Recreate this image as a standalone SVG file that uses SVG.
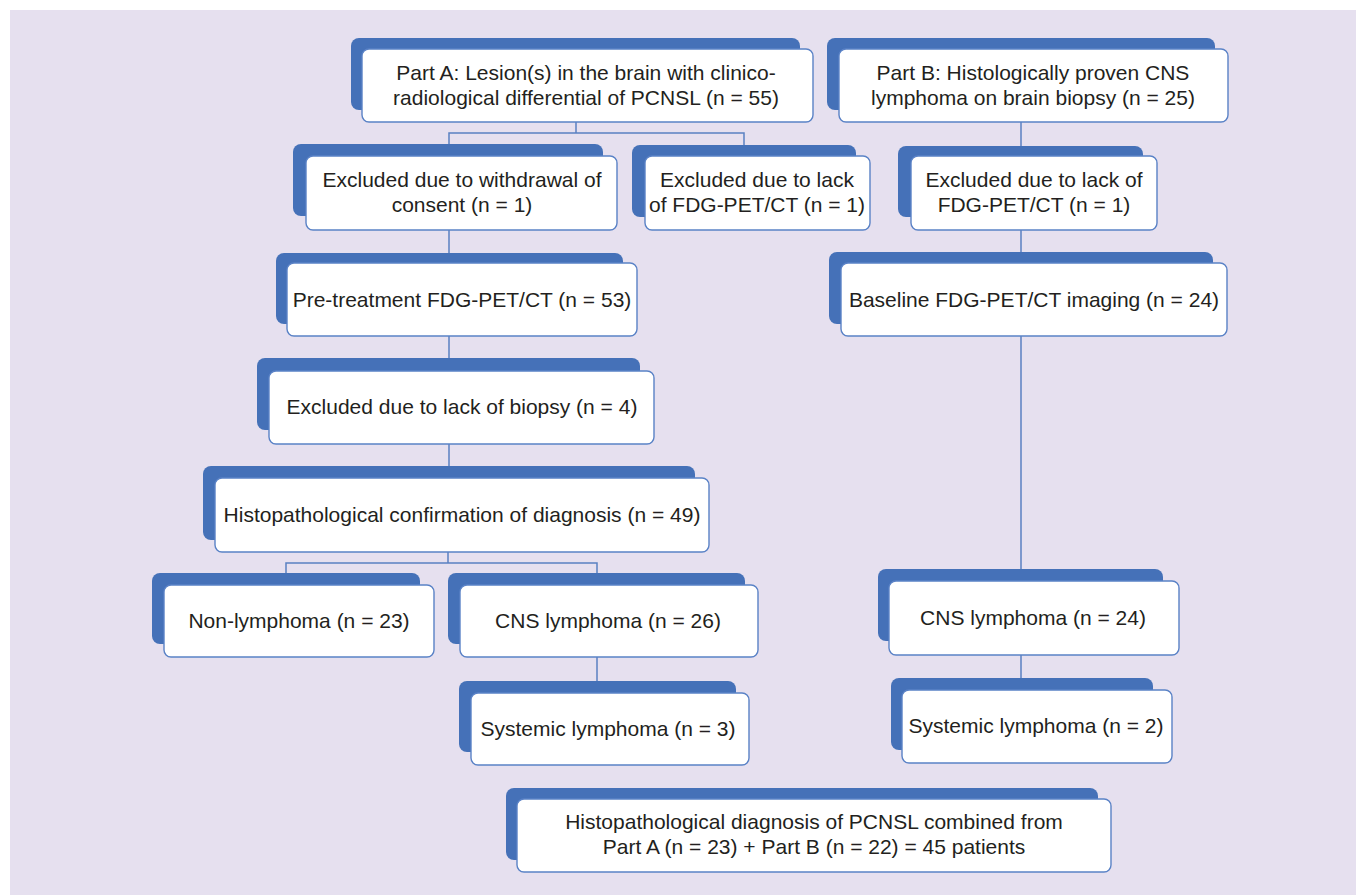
<svg xmlns="http://www.w3.org/2000/svg" width="1356" height="895" viewBox="0 0 1356 895">
<style>
.bg{fill:#e6e0ef}
.back{fill:#4571b8}
.front{fill:#ffffff;stroke:#5a82c6;stroke-width:1.4}
.t{font-family:"Liberation Sans",Arial,sans-serif;font-size:21px;fill:#231f20;text-anchor:middle}
.c{fill:none;stroke:#5a80c2;stroke-width:1.5}
</style>
<rect class="bg" x="10" y="10" width="1346" height="885"/>
<g id="connectors">
<polyline class="c" points="576,122 576,133"/>
<polyline class="c" points="449,144 449,133 744,133 744,145"/>
<line class="c" x1="449" y1="230" x2="449" y2="253"/>
<line class="c" x1="449" y1="336" x2="449" y2="358"/>
<line class="c" x1="449" y1="444" x2="449" y2="466"/>
<line class="c" x1="448" y1="552" x2="448" y2="563"/>
<polyline class="c" points="286,573 286,563 597,563 597,573"/>
<line class="c" x1="597" y1="657" x2="597" y2="681"/>
<line class="c" x1="1021" y1="122" x2="1021" y2="146"/>
<line class="c" x1="1021" y1="230" x2="1021" y2="252"/>
<line class="c" x1="1021" y1="336" x2="1021" y2="569"/>
<line class="c" x1="1021" y1="655" x2="1021" y2="678"/>
</g>
<g id="partA">
<rect class="back" x="351" y="38" width="449" height="72" rx="8"/>
<rect class="front" x="362" y="49" width="451" height="73" rx="7"/>
<text class="t" x="586" y="80">Part A: Lesion(s) in the brain with clinico-</text>
<text class="t" x="586" y="105">radiological differential of PCNSL (n = 55)</text>
</g>
<g id="partB">
<rect class="back" x="827" y="38" width="388" height="72" rx="8"/>
<rect class="front" x="839" y="49" width="389" height="73" rx="7"/>
<text class="t" x="1033" y="80">Part B: Histologically proven CNS</text>
<text class="t" x="1033" y="105">lymphoma on brain biopsy (n = 25)</text>
</g>
<g id="withdrawal">
<rect class="back" x="293" y="144" width="310" height="72" rx="8"/>
<rect class="front" x="306" y="156" width="311" height="74" rx="7"/>
<text class="t" x="462" y="187">Excluded due to withdrawal of</text>
<text class="t" x="462" y="212">consent (n = 1)</text>
</g>
<g id="lackFdgA">
<rect class="back" x="632" y="145" width="224" height="72" rx="8"/>
<rect class="front" x="645" y="156" width="225" height="74" rx="7"/>
<text class="t" x="757" y="187">Excluded due to lack</text>
<text class="t" x="757" y="212">of FDG-PET/CT (n = 1)</text>
</g>
<g id="lackFdgB">
<rect class="back" x="898" y="146" width="245" height="71" rx="8"/>
<rect class="front" x="911" y="156" width="246" height="74" rx="7"/>
<text class="t" x="1034" y="187">Excluded due to lack of</text>
<text class="t" x="1034" y="212">FDG-PET/CT (n = 1)</text>
</g>
<g id="pretreatment">
<rect class="back" x="276" y="253" width="347" height="71" rx="8"/>
<rect class="front" x="287" y="263" width="350" height="73" rx="7"/>
<text class="t" x="462" y="307">Pre-treatment FDG-PET/CT (n = 53)</text>
</g>
<g id="baseline">
<rect class="back" x="829" y="252" width="384" height="72" rx="8"/>
<rect class="front" x="841" y="263" width="386" height="73" rx="7"/>
<text class="t" x="1034" y="307">Baseline FDG-PET/CT imaging (n = 24)</text>
</g>
<g id="lackBiopsy">
<rect class="back" x="257" y="358" width="383" height="72" rx="8"/>
<rect class="front" x="269" y="371" width="385" height="73" rx="7"/>
<text class="t" x="462" y="414">Excluded due to lack of biopsy (n = 4)</text>
</g>
<g id="histo">
<rect class="back" x="203" y="466" width="492" height="74" rx="8"/>
<rect class="front" x="215" y="478" width="494" height="74" rx="7"/>
<text class="t" x="462" y="522">Histopathological confirmation of diagnosis (n = 49)</text>
</g>
<g id="nonLymphoma">
<rect class="back" x="152" y="573" width="268" height="71" rx="8"/>
<rect class="front" x="164" y="585" width="270" height="72" rx="7"/>
<text class="t" x="299" y="628">Non-lymphoma (n = 23)</text>
</g>
<g id="cns26">
<rect class="back" x="448" y="573" width="297" height="71" rx="8"/>
<rect class="front" x="460" y="585" width="298" height="72" rx="7"/>
<text class="t" x="608" y="628">CNS lymphoma (n = 26)</text>
</g>
<g id="systemic3">
<rect class="back" x="459" y="681" width="277" height="71" rx="8"/>
<rect class="front" x="471" y="693" width="278" height="72" rx="7"/>
<text class="t" x="608" y="736">Systemic lymphoma (n = 3)</text>
</g>
<g id="cns24">
<rect class="back" x="878" y="569" width="285" height="72" rx="8"/>
<rect class="front" x="889" y="581" width="290" height="74" rx="7"/>
<text class="t" x="1033" y="625">CNS lymphoma (n = 24)</text>
</g>
<g id="systemic2">
<rect class="back" x="891" y="678" width="262" height="72" rx="8"/>
<rect class="front" x="902" y="690" width="270" height="73" rx="7"/>
<text class="t" x="1036" y="733">Systemic lymphoma (n = 2)</text>
</g>
<g id="combined">
<rect class="back" x="506" y="788" width="592" height="72" rx="8"/>
<rect class="front" x="517" y="799" width="594" height="73" rx="7"/>
<text class="t" x="814" y="829">Histopathological diagnosis of PCNSL combined from</text>
<text class="t" x="814" y="854">Part A (n = 23) + Part B (n = 22) = 45 patients</text>
</g>
</svg>
